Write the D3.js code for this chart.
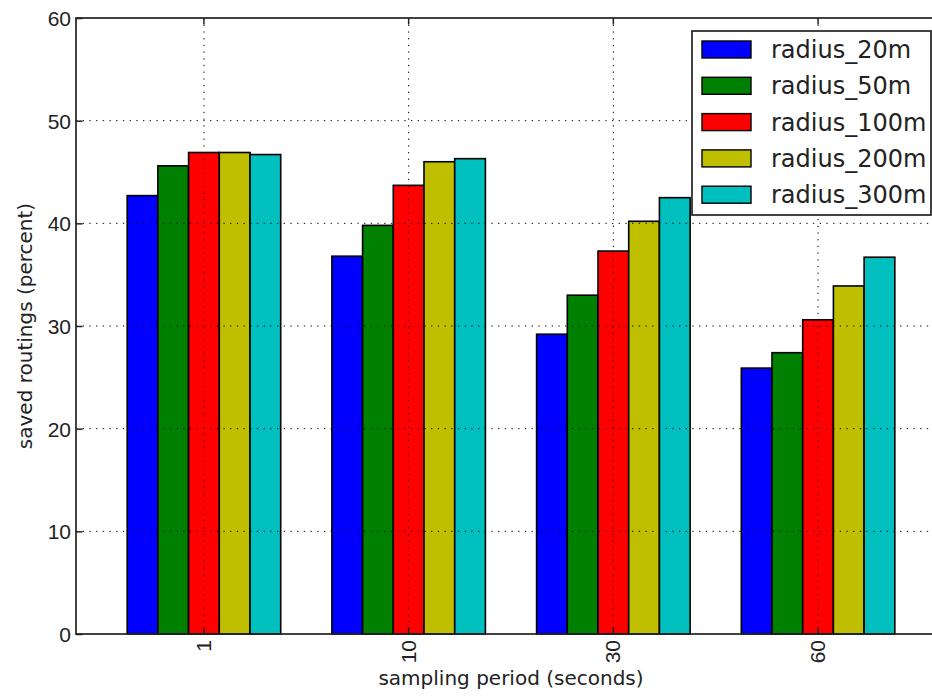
<!DOCTYPE html>
<html>
<head>
<meta charset="utf-8">
<script src="https://cdn.jsdelivr.net/npm/d3@7"></script>
<style>
  body { margin: 0; background: #fff; }
  svg { display: block; font-family: "DejaVu Sans", sans-serif; }
</style>
</head>
<body>
<div id="chart"></div>
<script>
// sampling periods (x categories) and radius series
const periods = ["1", "10", "30", "60"];
const seriesNames = ["radius_20m", "radius_50m", "radius_100m", "radius_200m", "radius_300m"];
const seriesColors = ["#0000ff", "#008000", "#ff0000", "#bfbf00", "#00bfbf"];

// saved routings (percent), one array per radius, in period order
const radius20 = [42.7, 36.8, 29.2, 25.9];
const radius50 = [45.6, 39.8, 33.0, 27.4];
const radius100 = [46.9, 43.7, 37.3, 30.6];
const radius200 = [46.9, 46.0, 40.2, 33.9];
const radius300 = [46.7, 46.3, 42.5, 36.7];

const yTicks = [0, 10, 20, 30, 40, 50, 60];

const seriesValues = [radius20, radius50, radius100, radius200, radius300];

const W = 932, H = 696;
// plot frame; right edge runs past the picture like the original crop
const frame = { left: 76, top: 18, right: 946, bottom: 634 };

const svg = d3.select("#chart").append("svg")
  .attr("width", W)
  .attr("height", H)
  .attr("viewBox", `0 0 ${W} ${H}`);

const x = d3.scaleBand()
  .domain(periods)
  .range([frame.left, frame.right])
  .paddingInner(0.25)
  .paddingOuter(0.25);

const xSub = d3.scaleBand()
  .domain(seriesNames)
  .range([0, x.bandwidth()]);

const y = d3.scaleLinear().domain([0, 60]).range([frame.bottom, frame.top]);

const rows = [];
periods.forEach((p, i) => {
  seriesNames.forEach((s, j) => {
    rows.push({ period: p, series: s, value: seriesValues[j][i], color: seriesColors[j] });
  });
});

// bars
svg.append("g")
  .selectAll("rect")
  .data(rows)
  .join("rect")
  .attr("x", (d) => x(d.period) + xSub(d.series))
  .attr("y", (d) => y(d.value))
  .attr("width", xSub.bandwidth())
  .attr("height", (d) => y(0) - y(d.value))
  .attr("fill", (d) => d.color)
  .attr("stroke", "#000")
  .attr("stroke-width", 1.6);

// dotted grid, drawn above the bars
const grid = svg.append("g")
  .attr("stroke", "#000")
  .attr("stroke-width", 1)
  .attr("stroke-dasharray", "1.3,5.4");

grid.selectAll(".hgrid")
  .data(yTicks.filter((t) => t > 0 && t < 60))
  .join("line")
  .attr("class", "hgrid")
  .attr("x1", frame.left)
  .attr("x2", frame.right)
  .attr("y1", (d) => y(d))
  .attr("y2", (d) => y(d));

grid.selectAll(".vgrid")
  .data(periods)
  .join("line")
  .attr("class", "vgrid")
  .attr("x1", (d) => x(d) + x.bandwidth() / 2)
  .attr("x2", (d) => x(d) + x.bandwidth() / 2)
  .attr("y1", frame.top)
  .attr("y2", frame.bottom);

// frame
svg.append("rect")
  .attr("x", frame.left)
  .attr("y", frame.top)
  .attr("width", frame.right - frame.left)
  .attr("height", frame.bottom - frame.top)
  .attr("fill", "none")
  .attr("stroke", "#222")
  .attr("stroke-width", 1.7);

// y axis: inward ticks on the left
const yAxis = svg.append("g")
  .attr("transform", `translate(${frame.left},0)`)
  .call(d3.axisRight(y).tickValues(yTicks).tickSize(6.5).tickFormat(d3.format("d")));
yAxis.select(".domain").remove();
yAxis.selectAll(".tick line").attr("stroke", "#222").attr("stroke-width", 1.5);
yAxis.selectAll(".tick text")
  .attr("x", -5)
  .attr("text-anchor", "end")
  .attr("dy", "0.35em")
  .style("font-size", "21px")
  .style("fill", "#222");

// x axis: inward ticks at bottom and top, vertical labels
const xAxis = svg.append("g")
  .attr("transform", `translate(0,${frame.bottom})`)
  .call(d3.axisTop(x).tickSize(6.5));
xAxis.select(".domain").remove();
xAxis.selectAll(".tick line").attr("stroke", "#222").attr("stroke-width", 1.5);
xAxis.selectAll(".tick text")
  .attr("x", 0)
  .attr("y", 0)
  .attr("dy", null)
  .attr("transform", "translate(7,6) rotate(-90)")
  .attr("text-anchor", "end")
  .style("font-size", "21px")
  .style("fill", "#222");

const xTop = svg.append("g")
  .attr("transform", `translate(0,${frame.top})`)
  .call(d3.axisBottom(x).tickSize(6.5).tickFormat(""));
xTop.select(".domain").remove();
xTop.selectAll(".tick line").attr("stroke", "#222").attr("stroke-width", 1.5);

// axis labels
svg.append("text")
  .attr("x", (frame.left + frame.right) / 2)
  .attr("y", 685)
  .attr("text-anchor", "middle")
  .style("font-size", "20px")
  .style("fill", "#222")
  .text("sampling period (seconds)");

svg.append("text")
  .attr("transform", `translate(32,${(frame.top + frame.bottom) / 2}) rotate(-90)`)
  .attr("text-anchor", "middle")
  .style("font-size", "20px")
  .style("fill", "#222")
  .text("saved routings (percent)");

// legend
const legend = svg.append("g").attr("transform", "translate(692,31)");
legend.append("rect")
  .attr("width", 239)
  .attr("height", 184)
  .attr("fill", "#fff")
  .attr("stroke", "#222")
  .attr("stroke-width", 1.7);

const item = legend.selectAll(".item")
  .data(seriesNames)
  .join("g")
  .attr("class", "item")
  .attr("transform", (d, i) => `translate(0,${10 + i * 36.3})`);

item.append("rect")
  .attr("x", 10)
  .attr("width", 49)
  .attr("height", 17)
  .attr("fill", (d, i) => seriesColors[i])
  .attr("stroke", "#000")
  .attr("stroke-width", 1.4);

item.append("text")
  .attr("x", 79)
  .attr("y", 8.5)
  .attr("dy", "0.36em")
  .style("font-size", "24px")
  .style("fill", "#222")
  .text((d) => d);
</script>
</body>
</html>
